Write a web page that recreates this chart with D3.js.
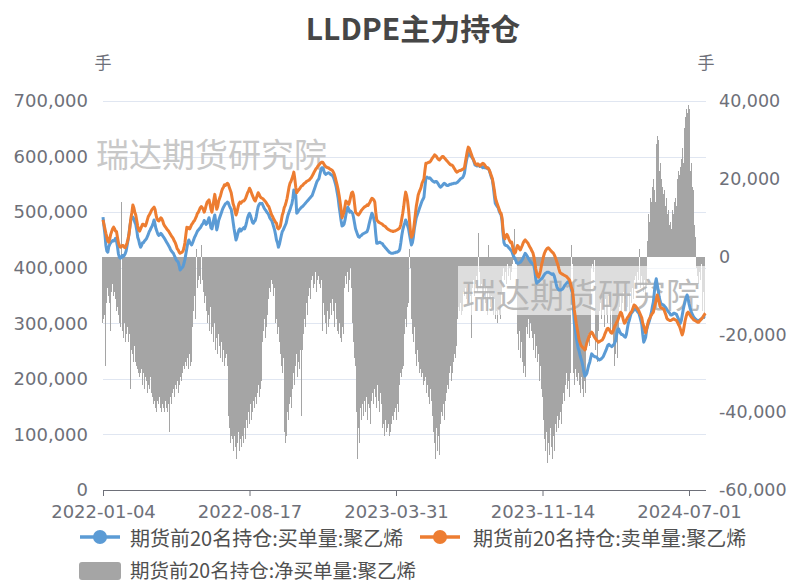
<!DOCTYPE html>
<html><head><meta charset="utf-8">
<script src="https://cdn.jsdelivr.net/npm/d3@7"></script>
<style>html,body{margin:0;padding:0;background:#fff;}svg{display:block;}</style>
</head><body>
<svg id="c" width="795" height="583"></svg>
<script>
// x-axis tick labels (category axis, ticks every 152 trading days)
const tickLabels = ["2022-01-04","2022-08-17","2023-03-31","2023-11-14","2024-07-01"];
const tickIndex = [0,152,304,456,608];
const leftTicks = [0,100,200,300,400,500,600,700];     // 千手
const rightTicks = [-60,-40,-20,0,20,40];              // 千手
const seriesNames = ["期货前20名持仓:买单量:聚乙烯","期货前20名持仓:卖单量:聚乙烯","期货前20名持仓:净买单量:聚乙烯"];

// 买单量 (千手), daily
const buyVol = [
491,475,460,440,430,428,438,442,445,447,
449,448,450,453,448,438,425,419,417,418,422,
420,422,425,430,440,450,462,476,486,490,
491,488,482,478,468,455,450,442,437,440,445,
445,448,450,452,456,460,465,468,472,475,
480,486,478,470,465,460,458,460,462,460,
457,455,452,449,446,443,440,437,433,430,428,
426,422,418,414,412,410,404,396,398,400,
402,408,415,425,435,445,450,446,443,441,
445,450,455,458,462,466,468,470,472,475,478,
480,485,482,478,480,485,490,482,472,470,
478,488,495,482,468,475,485,490,495,500,505,
509,512,515,516,518,517,512,508,505,495,
482,470,460,450,455,462,468,470,466,468,
470,472,470,475,482,490,495,498,494,488,482,
480,483,485,492,502,510,514,516,515,516,
512,508,505,503,500,498,495,490,487,485,
480,474,468,460,450,445,437,442,450,458,465,
468,472,476,480,488,495,500,504,510,515,
525,540,535,530,498,500,503,505,507,509,510,
512,514,516,518,520,522,524,526,528,530,
535,540,545,550,555,558,560,568,575,580,
580,575,570,568,569,570,571,570,568,567,566,
563,558,552,545,535,525,510,498,485,475,
476,478,485,495,505,509,505,500,502,500,
498,490,480,470,465,460,456,455,457,458,460,
461,462,463,464,465,470,478,485,492,498,
495,488,480,460,444,444,445,446,445,444,443,
440,438,436,434,432,430,428,427,426,426,
426,427,427,428,428,429,430,434,445,458,
468,475,480,486,482,476,470,460,450,441,445,
455,470,480,490,495,500,505,510,515,520,
523,527,545,561,563,562,561,562,560,558,
556,555,554,555,555,553,550,547,545,546,548,
550,552,551,549,548,548,549,550,550,551,
551,552,552,552,553,554,556,558,560,561,562,
565,570,582,592,600,606,604,602,600,598,
595,590,585,584,583,585,584,582,583,582,
580,581,580,580,579,580,578,574,568,562,558,
545,530,516,513,510,508,502,498,495,485,
462,445,441,440,440,438,436,434,432,430,
425,420,418,414,410,408,408,409,410,412,415,
418,422,426,424,421,418,415,412,410,408,
406,404,395,380,372,374,375,377,379,380,
382,385,388,390,391,392,392,391,390,389,388,
389,386,380,372,365,362,360,360,360,361,
362,365,368,370,372,374,375,373,368,360,355,
330,300,288,275,265,255,250,242,236,230,
222,212,205,207,210,218,225,230,238,245,
243,241,240,240,239,237,235,234,235,236,238,
240,244,248,252,257,261,262,260,259,258,
260,262,265,270,280,288,290,285,282,280,280,
278,276,275,280,290,300,305,312,318,320,
322,325,326,325,322,320,318,312,305,298,
280,266,270,275,288,295,300,305,312,320,330,
338,355,372,380,370,360,348,340,335,334,
333,332,330,328,325,322,320,318,315,315,
316,318,318,317,316,312,308,302,300,305,315,
325,333,340,346,351,345,335,328,322,318,
314,311,309,307,306,305,305,306,307,308,310,
311,312,312
];

// 卖单量 (千手), daily
const sellVol = [
486,478,470,462,455,448,446,452,460,465,
470,473,470,466,465,455,445,440,437,438,440,
440,437,436,440,445,452,460,475,490,500,
513,508,500,495,485,475,468,466,470,474,478,
478,476,475,480,486,492,495,498,502,505,
507,509,505,495,488,485,484,487,490,488,
484,478,475,473,470,468,466,463,460,457,455,
452,448,445,440,434,432,428,426,427,428,
430,436,445,460,473,470,472,470,474,478,
480,483,485,489,493,498,500,504,508,510,508,
505,500,505,512,518,520,522,515,505,500,
510,522,532,520,505,510,520,525,530,537,542,
545,549,548,550,552,550,545,540,535,525,
515,510,502,495,500,508,515,518,516,518,
520,520,522,525,530,535,538,543,540,535,530,
526,522,520,525,530,535,532,528,526,525,
524,522,520,518,515,512,510,505,500,495,
492,488,485,482,480,472,470,472,475,485,495,
500,508,512,518,525,535,545,552,555,560,
565,572,560,545,535,538,540,542,545,547,548,
550,552,553,555,556,557,558,560,562,565,
568,572,575,578,580,583,585,587,589,590,
590,587,584,582,581,580,580,578,577,576,575,
572,568,562,555,548,540,530,518,505,490,
495,500,510,520,518,516,514,520,528,535,
536,530,515,500,498,496,495,497,500,503,505,
507,509,510,511,513,512,515,518,522,525,
524,522,518,500,486,484,482,481,480,479,478,
476,475,474,472,470,469,468,467,466,466,
465,466,466,467,468,469,470,472,478,488,
498,510,525,536,530,520,505,485,465,455,458,
465,480,495,510,520,531,536,540,545,552,
556,560,575,588,588,589,590,590,592,595,
598,600,603,602,600,597,595,594,596,598,600,
600,598,596,594,592,590,588,586,585,585,
583,580,577,574,572,573,574,575,575,576,577,
578,580,590,600,610,617,615,610,605,600,
596,592,588,586,585,587,585,583,585,586,
588,587,585,582,580,580,578,575,570,565,560,
550,540,527,520,515,510,505,500,498,490,
470,455,452,458,460,457,452,448,445,446,
438,430,426,428,435,440,438,434,432,436,440,
445,448,450,448,446,444,440,437,434,430,
427,420,410,398,390,385,383,388,395,405,
412,420,426,430,433,435,436,434,432,430,428,
427,424,420,415,410,405,398,392,390,389,
388,387,386,385,384,382,380,378,372,365,360,
345,324,312,300,290,280,270,265,260,258,
256,254,252,258,265,270,275,280,282,284,
282,278,275,272,270,268,266,267,268,269,270,
273,277,282,286,290,291,289,286,283,282,
285,290,295,298,302,305,310,315,320,318,312,
305,300,302,306,310,312,315,318,320,323,
328,333,332,330,327,325,322,318,314,310,
300,295,289,283,290,298,305,308,312,315,318,
320,328,335,342,351,345,338,330,328,327,
326,325,320,315,309,307,306,305,305,306,
307,308,307,306,305,302,298,295,290,284,279,
285,295,305,312,318,320,318,315,312,310,
308,306,305,304,303,302,302,304,306,308,310,
313,316,318
];

// 净买单量 (千手), daily
const netVol = [
-17,-16,-15,-28,-12,-8,-10,-12,-19,-9,
-7,-10,-9,-11,-8,-14,-13,-15,-17,-18,14,
-19,-21,-17,-22,-20,-18,-22,-20,-34,-24,
-25,-27,-23,-27,-28,-29,-30,-31,-30,-29,-32,
-33,-30,-34,-31,-32,-35,-33,-34,-31,-35,
-36,-38,-37,-39,-40,-37,-38,-36,-39,-40,
-38,-39,-40,-37,-39,-40,-38,-45,-37,-36,-38,
-35,-34,-36,-33,-34,-32,-35,-33,-31,-32,
-30,-28,-29,-27,-28,-26,-29,-25,-28,-27,
-18,-14,-10,-12,-16,2,-8,-6,-5,-7,3,
-6,-9,-12,-10,-14,-17,-15,-19,-13,-20,
-18,-22,-17,-24,-21,-25,-20,-23,-26,-22,-24,
-27,-24,-28,-26,-25,-28,-41,-44,-48,-46,
-47,-50,-46,-49,-52,-48,-45,-50,-47,-49,
-46,-48,-44,-47,-42,-44,-40,-43,-41,-38,-42,
-40,-37,-39,-36,-38,-35,-33,-36,-34,-32,
-22,-19,-16,-21,-18,-15,-11,-8,-9,-6,
-7,-10,-8,-14,-17,-16,-20,-18,-22,-25,-28,
-30,-26,-45,-48,-46,-40,-42,-38,-36,-39,
-34,-30,-33,-28,-25,-31,-27,-29,-24,-41,-22,
-24,-20,-16,-18,-12,-15,-10,-8,-11,-6,
-5,-8,-7,-4,-9,-6,-5,-7,-8,-6,
-19,-12,-15,-17,-20,-14,-18,-13,-16,-12,-15,
-11,-14,-18,-12,-16,-19,-20,-17,-21,-22,
-18,-20,-8,-5,-7,-4,-9,-6,-3,-8,
-17,-22,-26,-18,-28,-40,-52,-44,-48,-39,-42,
-38,-41,-37,-40,-36,-42,-38,-39,-43,-37,
-35,-38,-34,-36,-39,-33,-37,-40,-35,-38,-36,
-44,-43,-46,-42,-45,-44,-43,-46,-45,-43,
-41,-42,-40,-39,-42,-38,-40,-33,-30,-31,
-29,-28,-20,-16,-18,-13,-12,2,1,-3,-16,
-20,-22,-18,-25,-28,-24,-27,-30,-29,-31,
-30,-33,-32,-31,-35,-33,-36,-38,-34,-37,
-41,-45,-48,-52,-47,-44,-50,-46,-51,-43,-40,
-41,-38,-42,-37,-35,-33,-34,-30,-28,-32,
-30,-27,-25,-26,-23,-16,-13,-14,-12,-15,-14,
-12,-9,-10,-8,-11,-7,-12,-9,-10,-21,
-8,-6,-10,-7,-5,-9,6,-4,-8,-7,
-10,-14,-6,-12,-8,-15,-9,3,-11,-13,-10,
-12,-15,-11,-16,-14,-17,-13,-15,-16,-9,
-5,-3,-6,-4,-7,-2,-5,-3,-6,-4,
-2,-1,7,-1,-2,-1,-20,-24,-19,-26,-22,
-27,-30,-28,-31,-18,-20,-16,-21,-17,-19,
-21,-24,-20,-26,-23,-27,-25,-32,-28,-34,
-36,-33,-42,-47,-50,-45,-53,-48,-51,-44,-49,
-52,-46,-50,-43,-45,-41,-44,-42,-40,-43,
-38,-35,-37,-33,-30,-34,-31,-32,-36,-30,3,
-2,-30,-33,-29,-31,-32,-30,-33,-35,-31,
-34,-36,-32,-35,-24,-22,-20,-23,-21,-3,
-2,-4,-1,-18,-24,-21,-27,-19,-14,-12,-16,
-9,-13,-18,-11,-15,-17,-10,-12,-19,-14,
-20,-23,-28,-25,-22,-26,-19,-13,-10,-14,-8,
-12,-9,-14,-11,-7,-13,-10,-15,-9,-12,
-8,-11,-6,-5,-7,-4,-6,2,-8,-5,
-7,-9,-6,-10,-8,4,6,11,9,15,14,
18,20,17,14,29,31,30,22,24,20,
18,16,17,13,15,11,12,8,9,7,
12,11,14,12,15,13,20,22,21,23,25,
28,24,33,36,38,37,39,38,22,24,
18,17,8,5,-3,-5,-7,-4,-6,-2,-12,
-14,-9,-16
];

const colors = {buy:"#5b9bd5", sell:"#ed7d31", net:"#a5a5a5"};

const svg = d3.select("#c");
const x = d3.scaleLinear().domain([0, 625]).range([103, 705.4]);
const yL = d3.scaleLinear().domain([0, 700]).range([490, 101]);
const yR = d3.scaleLinear().domain([-60, 40]).range([490, 101]);
const fmt = d => d3.format(",")(d*1000).replace("\u2212","-");

// title
svg.append("text").attr("x", 413).attr("y", 40).attr("text-anchor","middle")
  .attr("font-family","'Noto Sans CJK SC','Noto Sans',sans-serif").attr("font-weight","bold")
  .attr("font-size", 30).attr("fill","#464646").text("LLDPE主力持仓");

// unit labels
svg.append("text").attr("x",103).attr("y",69).attr("text-anchor","middle")
  .attr("font-family","'Noto Sans CJK SC',sans-serif").attr("font-size",17).attr("fill","#6e7079").text("手");
svg.append("text").attr("x",706).attr("y",69).attr("text-anchor","middle")
  .attr("font-family","'Noto Sans CJK SC',sans-serif").attr("font-size",17).attr("fill","#6e7079").text("手");

// gridlines
svg.append("g").selectAll("line").data(leftTicks.filter(d=>d>0)).join("line")
  .attr("x1",103).attr("x2",706).attr("y1",d=>Math.round(yL(d))+0.5).attr("y2",d=>Math.round(yL(d))+0.5)
  .attr("stroke","#e0e6f1").attr("stroke-width",1);

// left axis labels
const axL = svg.append("g").attr("transform","translate(103,0)")
  .call(d3.axisLeft(yL).tickValues(leftTicks).tickSize(0).tickPadding(15).tickFormat(fmt));
axL.select(".domain").remove();
axL.selectAll("text").attr("font-family","'DejaVu Sans',sans-serif").attr("font-size",18).attr("fill","#6e7079");

// right axis labels
const axR = svg.append("g").attr("transform","translate(706,0)")
  .call(d3.axisRight(yR).tickValues(rightTicks).tickSize(0).tickPadding(13).tickFormat(fmt));
axR.select(".domain").remove();
axR.selectAll("text").attr("font-family","'DejaVu Sans',sans-serif").attr("font-size",17.5).attr("fill","#6e7079");

// bars (net)
svg.append("g").attr("shape-rendering","crispEdges").selectAll("rect").data(netVol).join("rect")
  .attr("x",(d,i)=>Math.floor(x(i)-0.5)).attr("width",1)
  .attr("y",d=>yR(Math.max(0,d))).attr("height",d=>Math.abs(yR(d)-yR(0)))
  .attr("fill",colors.net);

// watermark 1
svg.append("text").attr("x",96).attr("y",167)
  .attr("font-family","'Noto Sans CJK SC',sans-serif").attr("font-size",33).attr("fill","#c8c8c8").text("瑞达期货研究院");
// watermark 2 with translucent white backdrop
svg.append("rect").attr("x",458).attr("y",266).attr("width",247).attr("height",49).attr("fill","#fff").attr("opacity",0.62);
svg.append("text").attr("x",462).attr("y",308)
  .attr("font-family","'Noto Sans CJK SC',sans-serif").attr("font-size",34).attr("fill","#b0b0b0").attr("opacity",0.85).text("瑞达期货研究院");

// x axis
const axB = svg.append("g").attr("transform","translate(0,490)")
  .call(d3.axisBottom(x).tickValues(tickIndex).tickSize(6).tickPadding(9).tickFormat((d,i)=>tickLabels[i]));
axB.select(".domain").attr("d","M103,0.5H706").attr("stroke","#6e7079");
axB.selectAll(".tick line").attr("stroke","#6e7079");
axB.selectAll("text").attr("font-family","'DejaVu Sans',sans-serif").attr("font-size",18).attr("fill","#6e7079");

// lines
const line = d3.line().x((d,i)=>x(i)).y(d=>yL(d));
svg.append("path").datum(buyVol).attr("d",line).attr("fill","none").attr("stroke",colors.buy)
  .attr("stroke-width",3).attr("stroke-linejoin","round");
svg.append("path").datum(sellVol).attr("d",line).attr("fill","none").attr("stroke",colors.sell)
  .attr("stroke-width",3).attr("stroke-linejoin","round");

// legend
const lg = svg.append("g").attr("font-family","'Noto Sans CJK SC',sans-serif").attr("font-size",20).attr("fill","#505050");
function lineIcon(cx, cy, col){
  lg.append("line").attr("x1",cx-20).attr("x2",cx+20).attr("y1",cy).attr("y2",cy).attr("stroke",col).attr("stroke-width",3.5);
  lg.append("circle").attr("cx",cx).attr("cy",cy).attr("r",7).attr("fill",col);
}
lineIcon(100,537,colors.buy);
lg.append("text").attr("x",130).attr("y",537).attr("dominant-baseline","central").text(seriesNames[0]);
lineIcon(440,537,colors.sell);
lg.append("text").attr("x",473).attr("y",537).attr("dominant-baseline","central").text(seriesNames[1]);
lg.append("rect").attr("x",79).attr("y",562).attr("width",42).attr("height",18).attr("rx",3).attr("fill",colors.net);
lg.append("text").attr("x",130).attr("y",569).attr("font-size",19.5).attr("dominant-baseline","central").text(seriesNames[2]);
</script>
</body></html>
